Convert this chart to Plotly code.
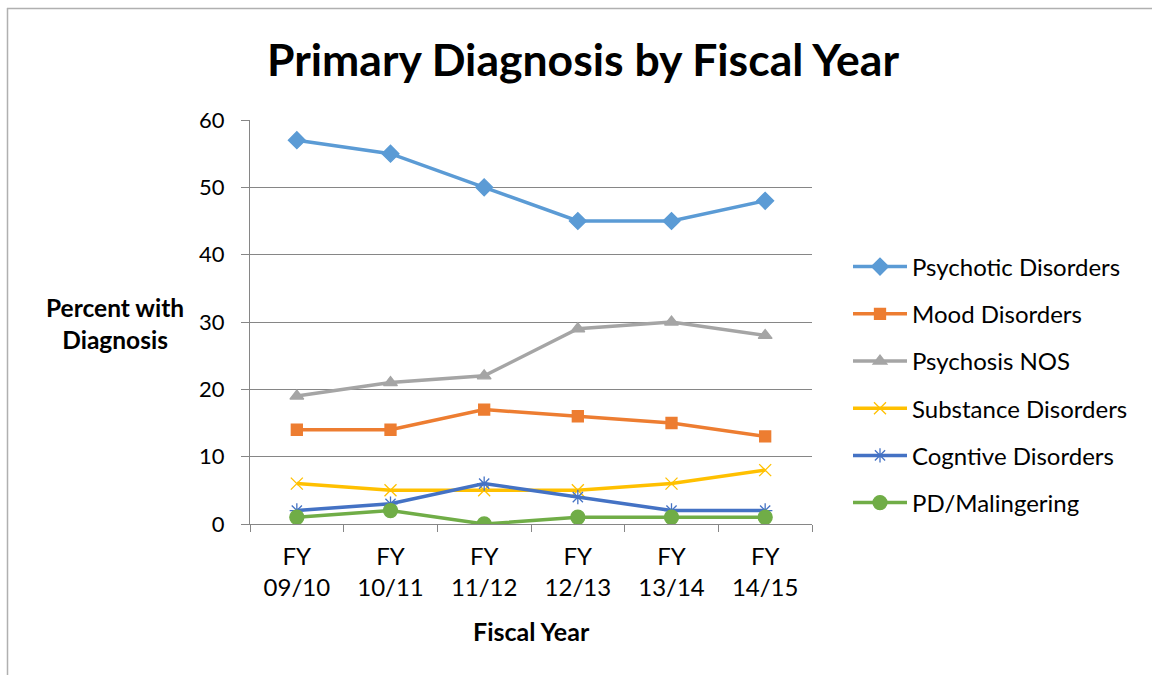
import plotly.graph_objects as go

categories = ["FY<br>09/10", "FY<br>10/11", "FY<br>11/12", "FY<br>12/13", "FY<br>13/14", "FY<br>14/15"]
psychotic = [57, 55, 50, 45, 45, 48]
mood = [14, 14, 17, 16, 15, 13]
psychosis_nos = [19, 21, 22, 29, 30, 28]
substance = [6, 5, 5, 5, 6, 8]
cognitive = [2, 3, 6, 4, 2, 2]
pd_malingering = [1, 2, 0, 1, 1, 1]

series = [
    ("Psychotic Disorders", psychotic, "#5B9BD5", "diamond", 13),
    ("Mood Disorders", mood, "#ED7D31", "square", 11),
    ("Psychosis NOS", psychosis_nos, "#A5A5A5", "triangle-up", 12),
    ("Substance Disorders", substance, "#FFC000", "x-thin-open", 12),
    ("Cogntive Disorders", cognitive, "#4472C4", "asterisk-open", 12),
    ("PD/Malingering", pd_malingering, "#70AD47", "circle", 14),
]

FONT = "Lato, 'Open Sans', sans-serif"

fig = go.Figure()
for i, (name, vals, color, sym, sz) in enumerate(series):
    fig.add_trace(go.Scatter(
        x=categories, y=vals, name=name, mode="lines+markers",
        line=dict(color=color, width=3.5),
        marker=dict(symbol=sym, size=sz, color=color, line=dict(color=color, width=1.3)),
        legendgroup=f"g{i}",
    ))

L, R, T, B = 250, 812, 120, 524
W, H = 1152, 675

def px_x(p):
    return (p - L) / (R - L)

def px_y(p):
    return (B - p) / (B - T)

fig.update_layout(
    width=W, height=H,
    margin=dict(l=L, r=W - R, t=T, b=H - B),
    paper_bgcolor="white", plot_bgcolor="white",
    font=dict(family=FONT, size=22, color="#000000"),
    title=dict(text="<b>Primary Diagnosis by Fiscal Year</b>", x=583 / W, xanchor="center",
               y=1 - 60 / H, yanchor="middle", font=dict(size=44.5, family=FONT)),
    showlegend=True,
    legend=dict(x=px_x(848), xanchor="left", y=px_y(385), yanchor="middle",
                font=dict(size=24, family=FONT), tracegroupgap=13,
                itemwidth=54, bgcolor="rgba(0,0,0,0)"),
    xaxis=dict(type="category", range=[-0.5, 5.5], tickson="boundaries",
               ticks="outside", ticklen=7, tickcolor="#868686",
               showline=True, linecolor="#868686", linewidth=1,
               showgrid=False, tickfont=dict(size=24), zeroline=False,
               ticklabelstandoff=11),
    yaxis=dict(range=[0, 60], dtick=10, ticks="outside", ticklen=8, tickcolor="#868686",
               showline=True, linecolor="#868686", linewidth=1,
               showgrid=True, gridcolor="#868686", gridwidth=1, zeroline=False,
               tickfont=dict(size=22), ticklabelstandoff=12),
    annotations=[
        dict(text="<b>Percent with<br>Diagnosis</b>", xref="paper", yref="paper",
             x=px_x(115), y=px_y(323), xanchor="center", yanchor="middle",
             showarrow=False, font=dict(size=24.5, family=FONT), align="center"),
        dict(text="<b>Fiscal Year</b>", xref="paper", yref="paper",
             x=px_x(531), y=px_y(631), xanchor="center", yanchor="middle",
             showarrow=False, font=dict(size=25, family=FONT)),
    ],
    shapes=[
        dict(type="line", xref="paper", yref="paper", x0=px_x(7), x1=px_x(1160),
             y0=px_y(8.5), y1=px_y(8.5), line=dict(color="#B0B0B0", width=1.5)),
        dict(type="line", xref="paper", yref="paper", x0=px_x(7.5), x1=px_x(7.5),
             y0=px_y(8), y1=px_y(680), line=dict(color="#B0B0B0", width=1.5)),
    ],
)

fig.write_html("out.html", config={"displayModeBar": False},
               post_script="document.body.style.margin='0px';document.body.style.overflow='hidden';")
